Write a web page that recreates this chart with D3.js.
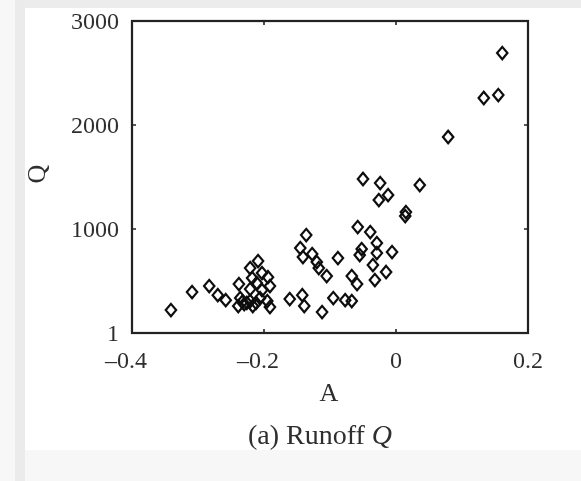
<!DOCTYPE html>
<html>
<head>
<meta charset="utf-8">
<script src="https://cdn.jsdelivr.net/npm/d3@7"></script>
<style>
  body { margin: 0; background: #f7f7f7; }
  svg { display: block; }
</style>
</head>
<body>
<script>
// A and Q values
const aValues = [
  -0.341, -0.309, -0.283, -0.270, -0.258,
  -0.209, -0.221, -0.203, -0.218, -0.194, -0.238, -0.211, -0.191, -0.221, -0.203,
  -0.236, -0.221, -0.206, -0.195, -0.239, -0.230, -0.217, -0.191,
  -0.233, -0.226, -0.212,
  -0.136, -0.145, -0.141, -0.127, -0.120, -0.117, -0.105, -0.088,
  -0.161, -0.142, -0.139, -0.112, -0.095, -0.077, -0.067,
  -0.067, -0.059, -0.058, -0.039, -0.029, -0.006, -0.029, -0.052, -0.055, -0.035,
  -0.015, -0.032, -0.050, -0.024, -0.012, -0.026, 0.015, 0.014, 0.036,
  0.079, 0.133, 0.155, 0.161
];
const qValues = [
  221, 394, 452, 365, 317,
  692, 625, 577, 529, 538, 471, 481, 452, 423, 413,
  337, 308, 337, 308, 260, 279, 260, 250,
  300, 290, 290,
  942, 817, 731, 760, 683, 625, 548, 721,
  327, 365, 260, 202, 337, 317, 308,
  548, 471, 1019, 971, 865, 779, 769, 808, 750, 654,
  587, 510, 1481, 1442, 1327, 1279, 1163, 1125, 1423,
  1885, 2260, 2288, 2692
];
const xTicks = [-0.4, -0.2, 0, 0.2];
const yTicks = [1, 1000, 2000, 3000];
const xLabel = "A";
const yLabel = "Q";

const W = 581, H = 481;
const m = { left: 132, top: 21, right: 53, bottom: 148 };
const w = W - m.left - m.right, h = H - m.top - m.bottom;

const svg = d3.select("body").append("svg")
    .attr("width", W)
    .attr("height", H);

// page backdrop: grey strips round a white sheet
svg.append("rect").attr("width", W).attr("height", H).attr("fill", "#f7f7f7");
svg.append("rect").attr("x", 15).attr("width", 10).attr("height", H).attr("fill", "#ebebeb");
svg.append("rect").attr("x", 25).attr("y", 0).attr("width", W - 25).attr("height", 8).attr("fill", "#ececec");
svg.append("rect").attr("x", 25).attr("y", 8).attr("width", W - 25).attr("height", 442).attr("fill", "#ffffff");

// the reference is a soft scan, so everything gets a faint blur
svg.append("defs").append("filter").attr("id", "soft")
    .append("feGaussianBlur").attr("stdDeviation", 0.45);

let x = d3.scaleLinear().domain([-0.4, 0.2]).range([0, w]);
let y = d3.scaleLinear().domain([1, 3000]).range([h, 0]);

let g = svg.append("g")
    .attr("transform", `translate(${m.left},${m.top})`)
    .attr("filter", "url(#soft)");

const font = "'Liberation Serif', 'Times New Roman', serif";
const ink = "#222";
const txt = "#2e2e2e";

// frame
g.append("rect")
    .attr("width", w).attr("height", h)
    .attr("fill", "none")
    .attr("stroke", ink)
    .attr("stroke-width", 2.2);

// tick marks pointing inward on all four sides
const tl = 4;
g.selectAll(".xt").data(xTicks).enter().append("path")
    .attr("d", d => `M${x(d)},${h}v${-tl}M${x(d)},0v${tl}`)
    .attr("stroke", ink).attr("stroke-width", 1.6);
g.selectAll(".yt").data(yTicks).enter().append("path")
    .attr("d", d => `M0,${y(d)}h${tl}M${w},${y(d)}h${-tl}`)
    .attr("stroke", ink).attr("stroke-width", 1.6);

// x tick labels: number centred on the tick, minus hanging to the left
g.selectAll(".xl").data(xTicks).enter().append("text")
    .attr("x", d => x(d))
    .attr("y", h + 35)
    .attr("text-anchor", "middle")
    .attr("font-family", font).attr("font-size", 24).attr("fill", txt)
    .text(d => Math.abs(d).toString())
    .each(function(d) {
        if (d < 0) {
            let bb = this.getBBox();
            g.append("text")
                .attr("x", bb.x)
                .attr("y", h + 35)
                .attr("text-anchor", "end")
                .attr("font-family", font).attr("font-size", 24).attr("fill", txt)
                .text("\u2013");
        }
    });

// y tick labels
g.selectAll(".yl").data(yTicks).enter().append("text")
    .attr("x", -13)
    .attr("y", d => y(d))
    .attr("dy", "0.35em")
    .attr("text-anchor", "end")
    .attr("font-family", font).attr("font-size", 24).attr("fill", txt)
    .text(d => d);

// axis titles
g.append("text")
    .attr("x", w / 2 - 1)
    .attr("y", h + 68)
    .attr("text-anchor", "middle")
    .attr("font-family", font).attr("font-size", 26).attr("fill", txt)
    .text(xLabel);

g.append("text")
    .attr("transform", `translate(${-87},${h / 2 - 3}) rotate(-90)`)
    .attr("text-anchor", "middle")
    .attr("font-family", font).attr("font-size", 26).attr("fill", txt)
    .text(yLabel);

// caption
let cap = svg.append("text")
    .attr("x", 320)
    .attr("y", 444)
    .attr("text-anchor", "middle")
    .attr("filter", "url(#soft)")
    .attr("font-family", font).attr("font-size", 28).attr("fill", txt);
cap.append("tspan").text("(a) Runoff ");
cap.append("tspan").attr("font-style", "italic").text("Q");

// hollow diamond markers
const diamond = {
    draw(ctx, size) {
        let a = 5.2, b = 6.2;
        ctx.moveTo(0, -b);
        ctx.lineTo(a, 0);
        ctx.lineTo(0, b);
        ctx.lineTo(-a, 0);
        ctx.closePath();
    }
};

g.selectAll(".pt")
    .data(aValues.map((a, i) => [a, qValues[i]]))
    .enter()
    .append("path")
    .attr("transform", d => `translate(${x(d[0])},${y(d[1])})`)
    .attr("d", d3.symbol(diamond))
    .attr("fill", "none")
    .attr("stroke", "#111")
    .attr("stroke-width", 2.2);
</script>
</body>
</html>
